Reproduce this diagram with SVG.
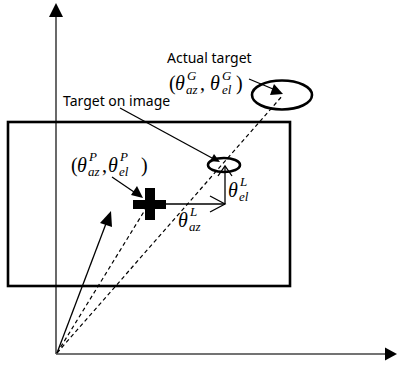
<svg xmlns="http://www.w3.org/2000/svg" width="397" height="366" viewBox="0 0 397 366">
<style>
.axis{stroke:#444;stroke-width:1.6;fill:none}
.thin{stroke:#000;stroke-width:1.3;fill:none}
.dash{stroke:#000;stroke-width:1.2;fill:none;stroke-dasharray:4 3}
.thick{stroke:#000;stroke-width:2.6;fill:none}
.lbl{font-family:"Noto Sans","Open Sans",sans-serif;font-size:14px;fill:#000}
.m{font-family:"Liberation Serif","DejaVu Serif",serif;font-style:italic;font-size:20px;fill:#000}
.s{font-family:"Liberation Serif","DejaVu Serif",serif;font-style:italic;font-size:13px;fill:#000}
.p{font-family:"Liberation Serif","DejaVu Serif",serif;font-size:20px;fill:#000}
</style>
<rect width="397" height="366" fill="#fff"/>
<g id="axes">
<line class="axis" x1="56" y1="354" x2="56" y2="15"/>
<polygon points="56,3 49,17 63,17" fill="#000"/>
<line class="axis" x1="56" y1="354" x2="386" y2="354"/>
<polygon points="397,354 385,347.5 385,360.5" fill="#000"/>
</g>
<g id="image-frame">
<rect class="thick" x="8" y="122" width="282" height="164"/>
</g>
<g id="actual-target">
<ellipse class="thick" cx="282" cy="95" rx="30" ry="14.5"/>
</g>
<g id="target-on-image">
<ellipse class="thick" cx="224" cy="165" rx="16" ry="7"/>
</g>
<g id="principal-point">
<rect x="145" y="188" width="10" height="32" fill="#000"/>
<rect x="133" y="200" width="33" height="9" fill="#000"/>
</g>
<g id="connectors">
<line class="dash" x1="57" y1="353" x2="148" y2="205"/>
<line class="dash" x1="57" y1="353" x2="283" y2="95"/>
<line class="thin" x1="57" y1="353" x2="107" y2="221"/>
<polygon points="111,211 100,223 112,227" fill="#000"/>
<line class="thin" x1="166" y1="204" x2="225" y2="204"/>
<polyline class="thin" points="210,196 225,204 210,212"/>
<line class="thin" x1="225" y1="204" x2="225" y2="167"/>
<polyline class="thin" points="218,176 225,166 232,176"/>
<line class="thin" x1="112" y1="177" x2="134" y2="192"/>
<polygon points="143,198 131,195 137,186" fill="#000"/>
<line class="thin" x1="120" y1="108" x2="212" y2="158"/>
<polygon points="220,162 210,161 214,154" fill="#000"/>
<line class="thin" x1="249" y1="79" x2="273" y2="89"/>
<polygon points="283,94 270,95 274,84" fill="#000"/>
</g>
<g id="labels">
<text class="lbl" x="167" y="63">Actual target</text>
<text class="lbl" x="63" y="106">Target on image</text>
<text class="p" x="169" y="90">(</text>
<text class="m" x="175" y="90">θ</text>
<text class="s" x="187" y="80">G</text>
<text class="s" x="186" y="94">az</text>
<text class="p" x="200" y="90">,</text>
<text class="m" x="210" y="90">θ</text>
<text class="s" x="222" y="80">G</text>
<text class="s" x="222" y="94">el</text>
<text class="p" x="236" y="90">)</text>
<text class="p" x="71" y="172">(</text>
<text class="m" x="77" y="172">θ</text>
<text class="s" x="89" y="161">P</text>
<text class="s" x="88" y="176">az</text>
<text class="p" x="102" y="172">,</text>
<text class="m" x="108" y="172">θ</text>
<text class="s" x="120" y="161">P</text>
<text class="s" x="119" y="176">el</text>
<text class="p" x="141" y="172">)</text>
<text class="m" x="178" y="227">θ</text>
<text class="s" x="190" y="216">L</text>
<text class="s" x="189" y="231">az</text>
<text class="m" x="228" y="197">θ</text>
<text class="s" x="240" y="186">L</text>
<text class="s" x="239" y="201">el</text>
</g>
</svg>
